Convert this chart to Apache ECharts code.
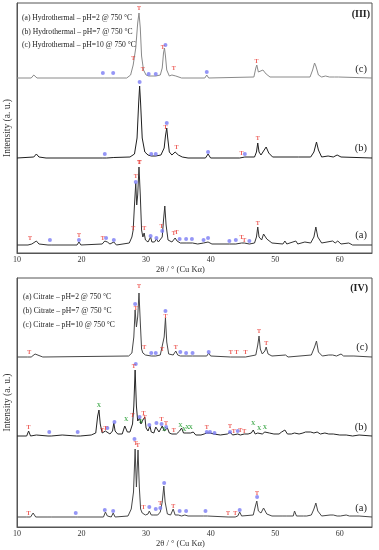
<!DOCTYPE html>
<html><head><meta charset="utf-8">
<script src="https://cdn.jsdelivr.net/npm/echarts@6/dist/echarts.min.js"></script>
<style>html,body{margin:0;padding:0;background:#fff}#c{width:379px;height:550px}</style>
</head><body><div id="c"></div>
<script>
// ---------- axis ----------
var xMin = 10, xMax = 65, xStep = 10;
var xTitle = '2θ / ° (Cu Kα)';
var yTitle = 'Intensity (a. u.)';

// ---------- Panel III : Hydrothermal ----------
var hydroLabels = ['(a) Hydrothermal – pH=2 @ 750 °C', '(b) Hydrothermal – pH=7 @ 750 °C', '(c) Hydrothermal – pH=10 @ 750 °C'];
var hydroOffsets = [8, 95, 175]; // baselines of (a),(b),(c)
var hydroA = [[10,0],[11.7,0],[12.0,2],[12.3,1],[13.0,4],[13.4,1],[14.8,0],[15.1,2],[15.4,0],[19.3,0],[19.6,3],[19.9,0],[23.2,1],[23.6,4],[24.0,3],[24.4,1],[25.0,3],[25.4,0],[27.4,2],[27.8,8],[28.0,15],[28.2,40],[28.4,62],[28.55,40],[28.7,50],[28.9,78],[29.1,50],[29.3,15],[29.5,8],[29.7,12],[29.9,5],[30.3,3],[30.7,8],[30.9,3],[31.3,3],[31.6,6],[31.9,3],[32.2,5],[32.5,8],[32.7,25],[32.9,39],[33.1,20],[33.4,5],[34.0,3],[34.5,7],[34.8,4],[35.3,2],[36.2,2],[37.2,2],[38.0,1],[38.9,2],[39.6,3],[40.2,1],[42.9,1],[43.9,1],[44.8,2],[45.2,2],[46.0,1],[46.8,2],[47.1,8],[47.3,18],[47.5,8],[47.9,5],[48.2,11],[48.4,13],[48.7,6],[49.5,2],[51.2,1],[51.5,4],[51.8,1],[53.2,4],[53.5,1],[54.6,3],[55.5,2],[56.0,8],[56.3,18],[56.6,8],[57.2,2],[58.9,4],[59.3,2],[59.7,4],[60.2,1],[61.4,2],[62.0,0],[65,0]];
var hydroB = [[10,0],[12.6,1],[13.0,4],[13.4,1],[14.5,0],[23.3,0],[23.6,2],[23.9,0],[25.0,0.5],[27.5,1],[28.2,4],[28.6,20],[28.85,55],[29.0,72],[29.15,55],[29.4,20],[29.8,6],[30.3,3],[30.8,2],[31.5,2],[32.3,3],[32.8,10],[33.0,22],[33.2,30],[33.35,20],[33.6,6],[34.0,3],[34.5,6],[34.7,7],[35.0,3],[35.6,1],[36.5,0],[39.2,0],[39.6,4],[40.0,0],[44.5,0],[44.8,1],[45.3,1],[46.8,1],[47.1,6],[47.3,15],[47.5,6],[47.8,3],[48.3,8],[48.6,11],[49.0,5],[49.6,1],[53.6,1],[55.5,1],[56.0,6],[56.4,16],[56.7,8],[57.2,1],[58.2,2],[59.0,1],[59.6,3],[60.2,1],[65,0]];
var hydroC = [[10,0],[12.2,0],[12.6,3],[13.1,0],[23.0,0],[23.3,2],[23.6,0],[24.6,0],[24.9,2],[25.2,0],[27.0,0],[27.6,3],[28.0,13],[28.4,30],[28.7,55],[28.9,65],[29.1,50],[29.3,22],[29.6,8],[30.0,3],[30.4,2],[31.5,2],[32.2,3],[32.5,10],[32.7,25],[32.85,30],[33.0,22],[33.2,8],[33.6,2],[34.0,3],[34.3,5],[34.6,2],[35.5,0],[39.1,0],[39.4,3],[39.7,0],[46.7,1],[47.0,10],[47.15,13],[47.4,6],[47.7,4],[48.1,8],[48.3,9],[48.6,4],[49.2,1],[55.4,1],[55.8,8],[56.1,15],[56.3,12],[56.7,3],[57.2,1],[57.8,2],[58.1,2],[58.4,1],[59.2,1],[59.5,2],[59.8,1],[65,0]];
// markers: [2θ, height above own baseline]
var hydroA_T = [[12.0,7],[19.6,10],[23.3,7],[28.0,17],[28.4,69],[28.9,83],[29.7,17],[32.4,19],[34.3,12],[34.7,13],[44.8,8],[45.2,5],[47.3,22]];
var hydroA_dot = [[15.1,5],[19.6,5],[23.8,7],[25.0,5],[28.4,63],[30.7,9],[31.6,7],[32.5,14],[35.2,6],[36.2,6],[37.1,6],[38.9,5],[39.6,7],[42.9,4],[43.9,5],[46.0,4]];
var hydroB_T = [[29.0,-4],[33.0,31],[34.7,11],[44.8,5],[47.3,20]];
var hydroB_dot = [[23.6,4],[29.0,76],[30.8,4],[31.5,4],[33.2,35],[39.6,6],[45.3,4]];
var hydroC_T = [[28.0,20],[28.9,70],[29.5,9],[32.6,31],[34.3,10],[47.1,17]];
var hydroC_dot = [[23.3,5],[24.9,5],[30.4,4],[31.5,4],[33.0,33],[39.4,6]];

// ---------- Panel IV : Citrate ----------
var citLabels = ['(a) Citrate – pH=2 @ 750 °C', '(b) Citrate – pH=7 @ 750 °C', '(c) Citrate – pH=10 @ 750 °C'];
var citOffsets = [10, 91, 170];
var citA = [[10,0],[11.5,0],[11.8,1],[12.1,0],[12.5,4],[12.9,0],[14.8,0],[15.0,2],[15.3,0],[19.0,0],[19.2,2],[19.4,0],[23.4,0],[23.7,5],[24.0,1],[24.6,0],[24.9,4],[25.2,0],[27.2,1],[27.7,8],[28.05,25],[28.3,68],[28.5,30],[28.75,67],[28.95,30],[29.15,8],[29.4,4],[29.6,5],[29.9,2],[30.3,3],[30.5,6],[30.8,2],[31.2,2],[31.5,4],[31.8,2],[32.2,5],[32.5,15],[32.75,31],[32.95,15],[33.3,3],[33.8,2],[34.2,8],[34.5,2],[35.0,2],[35.2,4],[35.5,1],[36.0,2],[36.2,4],[36.5,1],[38.9,1],[39.2,3],[39.5,1],[42.7,0],[43.8,0],[44.2,1],[44.5,5],[44.8,1],[46.6,2],[46.9,10],[47.15,16],[47.4,6],[47.8,4],[48.2,9],[48.4,10],[48.7,3],[49.5,1],[51.2,1],[51.5,2],[51.8,1],[52.8,1],[53.0,6],[53.3,1],[54.4,1],[54.6,3],[54.9,1],[55.6,2],[56.0,8],[56.3,14],[56.6,6],[57.2,1],[58.5,2],[58.7,4],[59.0,2],[59.6,1],[59.8,3],[60.1,1],[61.0,2],[61.5,1],[63.0,1],[65,0]];
var citB = [[10,0],[11.5,0],[11.8,5],[12.1,0],[13,1],[14.8,0],[15.0,2],[15.3,0],[17,1],[19.2,0],[19.5,2],[19.8,0],[21.5,1],[22.2,3],[22.5,20],[22.7,26],[22.9,12],[23.2,3],[23.7,5],[24.0,4],[24.4,2],[24.8,5],[25.0,13],[25.2,5],[25.6,2],[26.3,2],[26.7,10],[26.9,12],[27.1,4],[27.5,4],[27.9,12],[28.1,30],[28.3,66],[28.5,30],[28.7,15],[29.0,18],[29.2,12],[29.5,16],[29.8,19],[30.0,8],[30.3,5],[30.6,10],[30.8,4],[31.2,3],[31.5,9],[31.7,9],[32.0,4],[32.2,6],[32.5,10],[32.8,5],[33.0,6],[33.3,8],[33.6,3],[34.0,2],[34.3,3],[34.7,2],[35.2,5],[35.5,8],[35.8,3],[36.2,3],[36.5,4],[36.9,3],[37.3,4],[37.7,1],[38.5,1],[39.0,2],[39.4,3],[39.9,3],[40.5,2],[41.5,1],[42.6,2],[43.0,4],[43.4,1],[44.2,2],[44.6,1],[45.2,2],[45.8,2],[46.3,3],[46.6,6],[46.9,2],[47.3,3],[47.6,4],[48.0,2],[48.4,4],[48.7,2],[49.1,3],[49.4,5],[49.8,2],[50.6,2],[51.0,4],[51.5,6],[51.9,2],[52.5,2],[53.0,3],[53.3,5],[53.7,2],[54.3,3],[54.7,4],[55.0,3],[55.5,4],[56.0,3],[56.5,4],[57.0,2],[57.7,3],[58.3,2],[59.0,2],[60.0,1],[61,1],[62,0],[63,1],[65,0]];
var citC = [[10,0],[11.6,0],[11.9,2],[12.2,0],[12.5,1],[12.8,3],[13.1,1],[14,0],[27.3,1],[27.8,4],[28.1,20],[28.3,47],[28.5,30],[28.7,40],[28.9,64],[29.1,35],[29.3,8],[29.5,4],[29.7,5],[29.9,2],[30.8,1],[31.5,1],[32.2,2],[32.5,4],[32.8,20],[33.0,39],[33.2,15],[33.5,3],[34.2,2],[34.6,6],[34.9,2],[35.3,1],[36.2,1],[37.2,1],[39.4,1],[39.7,4],[40.0,1],[43.1,0],[45.4,0],[47.0,2],[47.3,12],[47.5,21],[47.7,8],[48.0,3],[48.4,6],[48.6,10],[48.9,3],[49.5,1],[51.6,2],[52,0],[55.6,2],[56.1,10],[56.4,16],[56.7,5],[57.3,1],[58.3,2],[58.6,3],[58.9,2],[59.1,3],[59.5,1],[60.2,3],[60.6,1],[62.2,1],[65,0]];
var citA_T = [[11.8,4],[28.4,74],[28.7,72],[29.6,10],[32.2,14],[34.2,11],[42.7,4],[43.8,4],[47.2,24]];
var citA_dot = [[19.1,4],[23.6,7],[24.9,6],[28.2,78],[30.5,10],[31.5,8],[32.2,9],[32.8,34],[35.2,6],[36.2,6],[39.2,6],[44.5,7],[47.2,20]];
var citB_T = [[11.8,9],[23.2,6],[23.7,8],[27.9,21],[28.1,70],[29.6,23],[29.8,19],[32.4,17],[33.1,13],[34.3,6],[39.4,9],[43.0,10],[43.6,5],[44.6,6],[45.2,5]];
var citB_dot = [[15.0,4],[19.4,4],[24.0,8],[25.1,14],[28.4,72],[29.0,19],[30.5,11],[31.6,13],[32.4,12],[33.1,9],[39.4,4],[39.9,4],[40.6,3],[43.0,4],[44.2,5]];
var citB_X = [[22.7,31],[26.9,17],[29.2,15],[32.8,7],[35.3,11],[35.9,7],[36.4,9],[36.9,9],[46.6,13],[47.5,8],[48.4,9]];
var citC_T = [[11.9,5],[28.4,49],[28.9,71],[29.7,10],[32.5,8],[33.0,41],[34.6,10],[43.1,5],[44.0,5],[45.4,5],[47.5,26],[48.6,14]];
var citC_dot = [[28.3,53],[30.8,4],[31.5,4],[33.0,46],[35.3,5],[36.2,4],[37.2,4],[39.7,5]];

// ---------- build ----------
var FONT = "'Liberation Serif','Times New Roman',serif";
var series = [];
function shift(arr, off) { return arr.map(function (p) { return [p[0], p[1] + off]; }); }
function addLine(arr, off, idx, color) {
  series.push({type: 'line', xAxisIndex: idx, yAxisIndex: idx, data: shift(arr, off), showSymbol: false, symbol: 'none',
    lineStyle: {color: color, width: 1}, silent: true, animation: false, z: 2});
}
function addDots(arr, off, idx) {
  series.push({type: 'scatter', xAxisIndex: idx, yAxisIndex: idx, data: shift(arr, off), symbol: 'circle', symbolSize: 4,
    itemStyle: {color: '#7b7cf4'}, silent: true, animation: false, z: 4});
}
function addText(arr, off, idx, txt, color) {
  series.push({type: 'scatter', xAxisIndex: idx, yAxisIndex: idx, data: shift(arr, off), symbol: 'circle', symbolSize: 1,
    itemStyle: {color: 'rgba(0,0,0,0)'}, silent: true, animation: false, z: 5,
    label: {show: true, position: 'inside', formatter: txt, color: color, fontSize: 6, fontWeight: 'bold', fontFamily: FONT}});
}
var hydroCols = ['#333333', '#1f1f1f', '#8a8a8a'];
var citCols = ['#474747', '#262626', '#474747'];
[hydroA, hydroB, hydroC].forEach(function (d, i) { addLine(d, hydroOffsets[i], 0, hydroCols[i]); });
[citA, citB, citC].forEach(function (d, i) { addLine(d, citOffsets[i], 1, citCols[i]); });
addDots(hydroA_dot, hydroOffsets[0], 0); addText(hydroA_T, hydroOffsets[0], 0, 'T', '#e8312b');
addDots(hydroB_dot, hydroOffsets[1], 0); addText(hydroB_T, hydroOffsets[1], 0, 'T', '#e8312b');
addDots(hydroC_dot, hydroOffsets[2], 0); addText(hydroC_T, hydroOffsets[2], 0, 'T', '#e8312b');
addDots(citA_dot, citOffsets[0], 1); addText(citA_T, citOffsets[0], 1, 'T', '#e8312b');
addDots(citB_dot, citOffsets[1], 1); addText(citB_T, citOffsets[1], 1, 'T', '#e8312b'); addText(citB_X, citOffsets[1], 1, 'X', '#1e9a2a');
addDots(citC_dot, citOffsets[2], 1); addText(citC_T, citOffsets[2], 1, 'T', '#e8312b');

function xAx(idx) {
  return {type: 'value', gridIndex: idx, min: xMin, max: xMax, interval: xStep,
    axisLine: {show: true, lineStyle: {color: '#555', width: 1}}, axisTick: {show: false}, splitLine: {show: false},
    axisLabel: {fontFamily: FONT, fontSize: 8, color: '#333', margin: 3, showMaxLabel: false},
    name: xTitle, nameLocation: 'middle', nameGap: 10, nameTextStyle: {fontFamily: FONT, fontSize: 8.5, color: '#333', padding: [0, 28, 0, 0]}};
}
function yAx(idx, max) {
  return {type: 'value', gridIndex: idx, min: 0, max: max, axisLine: {show: true, lineStyle: {color: '#555'}}, axisTick: {show: false},
    axisLabel: {show: false}, splitLine: {show: false},
    name: yTitle, nameLocation: 'middle', nameGap: 5, nameTextStyle: {fontFamily: FONT, fontSize: 9.5, color: '#333'}};
}
function txt(x, y, s, size, bold, align) {
  return {type: 'text', x: x, y: y, z: 10, silent: true,
    style: {text: s, font: (bold ? 'bold ' : '') + size + 'px ' + FONT, fill: '#222', textAlign: align || 'left', textVerticalAlign: 'middle'}};
}
var graphics = [
  txt(22, 18, hydroLabels[0], 7.6), txt(22, 31.5, hydroLabels[1], 7.6), txt(22, 45, hydroLabels[2], 7.6),
  txt(370, 14, '(III)', 10, true, 'right'),
  txt(367, 69, '(c)', 10.5, false, 'right'), txt(367, 148, '(b)', 10.5, false, 'right'), txt(367, 235, '(a)', 10.5, false, 'right'),
  txt(23, 297, citLabels[0], 7.6), txt(23, 311, citLabels[1], 7.6), txt(23, 325, citLabels[2], 7.6),
  txt(368, 288, '(IV)', 10, true, 'right'),
  txt(368, 347, '(c)', 10.5, false, 'right'), txt(367, 427, '(b)', 10.5, false, 'right'), txt(367, 508, '(a)', 10.5, false, 'right')
];

var chart = echarts.init(document.getElementById('c'), null, {renderer: 'canvas'});
chart.setOption({
  animation: false,
  backgroundColor: '#fff',
  grid: [
    {left: 17, width: 355, top: 3, height: 250, show: true, borderColor: '#555', borderWidth: 1, containLabel: false, outerBoundsMode: 'none'},
    {left: 17, width: 355, top: 278, height: 249, show: true, borderColor: '#555', borderWidth: 1, containLabel: false, outerBoundsMode: 'none'}
  ],
  xAxis: [xAx(0), xAx(1)],
  yAxis: [yAx(0, 250), yAx(1, 249)],
  series: series,
  graphic: graphics
});
</script></body></html>
